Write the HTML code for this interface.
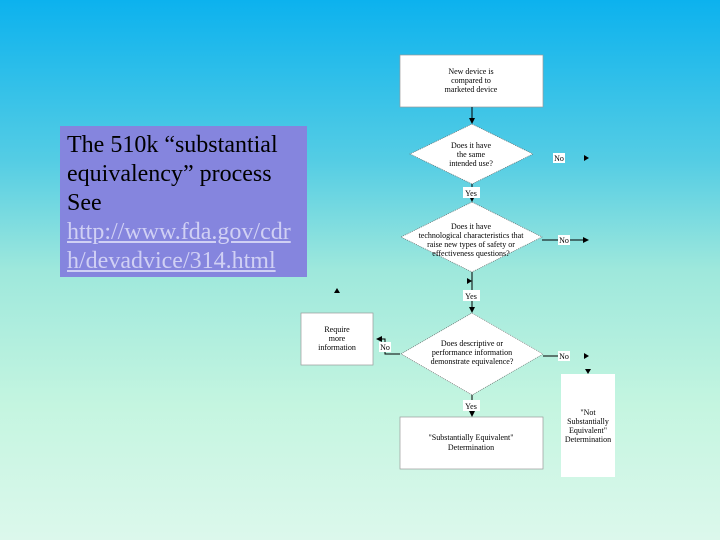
<!DOCTYPE html>
<html><head><meta charset="utf-8"><style>
html,body{margin:0;padding:0}
body{width:720px;height:540px;overflow:hidden;position:relative;background:linear-gradient(to bottom,#0cb2ee 0%,#55cde4 30%,#9ee8dc 50%,#c4f5e0 75%,#dcf8ec 100%);font-family:"Liberation Serif",serif}
#tb{position:absolute;left:60px;top:126px;width:247px;height:151px;background:#8585de;box-sizing:border-box;padding:5px 0 0 7px;font-size:24px;line-height:29px;color:#000;letter-spacing:0;white-space:nowrap;overflow:hidden}
#tb a{color:#d0d0f4;text-decoration:underline}
svg{position:absolute;left:0;top:0}
svg text{font-family:"Liberation Serif",serif;font-size:8px;fill:#000;text-anchor:middle}
</style></head><body>
<div id="tb">The 510k “substantial<br>equivalency” process<br>See<br><a>http://www.fda.gov/cdr<br>h/devadvice/314.html</a></div>
<svg width="720" height="540">
<defs><marker id="a" markerWidth="6" markerHeight="6" refX="5" refY="3" orient="auto"><path d="M0,0L6,3L0,6z" fill="#000"/></marker></defs>
<g fill="#fff" stroke="#999" stroke-width="0.7">
<rect x="400" y="55" width="143" height="52"/>
<rect x="400" y="417" width="143" height="52"/>
<rect x="301" y="313" width="72" height="52"/>
<rect x="561" y="374" width="54" height="103" stroke="none"/>
<polygon points="472,124 533,154 472,184 410,154" stroke="#666" stroke-dasharray="1,1"/>
<polygon points="472,202 542,237 472,272 401,237" stroke="#666" stroke-dasharray="1,1"/>
<polygon points="472,313 543,354 472,395 401,354" stroke="#666" stroke-dasharray="1,1"/>
</g>
<g stroke="#000" stroke-width="1" fill="none">
<line x1="472" y1="107" x2="472" y2="123" marker-end="url(#a)"/>
<line x1="472" y1="184" x2="472" y2="201" marker-end="url(#a)"/>
<line x1="472" y1="272" x2="472" y2="312" marker-end="url(#a)"/>
<line x1="472" y1="395" x2="472" y2="416" marker-end="url(#a)"/>
<line x1="542" y1="240" x2="588" y2="240" marker-end="url(#a)"/>
<line x1="543" y1="356" x2="560" y2="356"/>
<polyline points="400,354 385,354 385,339 377,339" marker-end="url(#a)"/>
</g>
<g fill="#000">
<path d="M584,155l5,3l-5,3z"/><path d="M584,353l5,3l-5,3z"/>
<path d="M585,369l6,0l-3,5z"/><path d="M334,293l6,0l-3,-5z"/>
<path d="M467,278l5,3l-5,3z"/>
</g>
<g>
<rect x="463" y="187" width="17" height="11" fill="#fff"/><text x="471" y="196">Yes</text>
<rect x="463" y="290" width="17" height="11" fill="#fff"/><text x="471" y="299">Yes</text>
<rect x="463" y="400" width="17" height="11" fill="#fff"/><text x="471" y="409">Yes</text>
<rect x="553" y="153" width="12" height="10" fill="#fff"/><text x="559" y="161">No</text>
<rect x="558" y="235" width="12" height="10" fill="#fff"/><text x="564" y="243">No</text>
<rect x="558" y="351" width="12" height="10" fill="#fff"/><text x="564" y="359">No</text>
<rect x="379" y="342" width="12" height="10" fill="#fff"/><text x="385" y="350">No</text>
<text x="471" y="74">New device is</text><text x="471" y="83">compared to</text><text x="471" y="92">marketed device</text>
<text x="471" y="148">Does it have</text><text x="471" y="157">the same</text><text x="471" y="166">intended use?</text>
<text x="471" y="229">Does it have</text><text x="471" y="238">technological characteristics that</text><text x="471" y="247">raise new types of safety or</text><text x="471" y="256">effectiveness questions?</text>
<text x="472" y="346">Does descriptive or</text><text x="472" y="355">performance information</text><text x="472" y="364">demonstrate equivalence?</text>
<text x="337" y="332">Require</text><text x="337" y="341">more</text><text x="337" y="350">information</text>
<text x="471" y="440">"Substantially Equivalent"</text><text x="471" y="450">Determination</text>
<text x="588" y="415">"Not</text><text x="588" y="424">Substantially</text><text x="588" y="433">Equivalent"</text><text x="588" y="442">Determination</text>
</g>
</svg>
</body></html>
